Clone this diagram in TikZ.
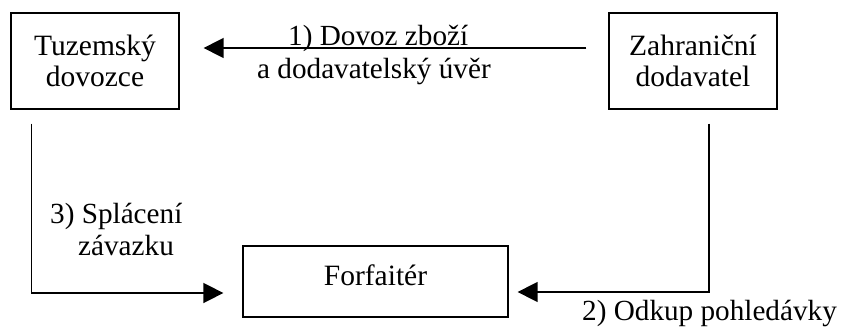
\documentclass[tikz,border=0pt]{standalone}
\usepackage{fontspec}
\setmainfont{Liberation Serif}
\usetikzlibrary{arrows.meta,calc}
\begin{document}
\begin{tikzpicture}[x=1pt,y=-1pt,
  party/.style={draw,line width=1.3pt,rectangle,inner sep=0pt,align=center,
    font=\fontsize{29.5}{31}\selectfont},
  flow/.style={line width=1.6pt,-{Triangle[length=20pt,width=20pt]}},
  lbl/.style={inner sep=0pt,align=left,font=\fontsize{29.2}{33}\selectfont}]
\useasboundingbox (0,0) rectangle (842,331);

% parties
\node[party,minimum width=168pt,minimum height=96pt] (tuz) at (95,61) {Tuzemský\\dovozce};
\node[party,minimum width=168pt,minimum height=96pt] (zah) at (693,61) {Zahraniční\\dodavatel};
\node[party,minimum width=265pt,minimum height=71pt,text height=20pt,text depth=13pt]
  (forf) at (375.5,281.5) {Forfaitér};

% flows
\coordinate (s1) at ($(zah.west)+(-22,-13)$);
\coordinate (t1) at ($(tuz.east)+(24,-13)$);
\draw[flow] (s1) -- (t1);

\coordinate (s3) at ($(tuz.south west)+(21,14)$);
\coordinate (t3) at ($(forf.west)+(-19,11.5)$);
\draw[flow] (s3) |- (t3);

\coordinate (s2) at ($(zah.south)+(16,14)$);
\coordinate (t2) at ($(forf.east)+(9,10.5)$);
\draw[flow] (s2) |- (t2);

% flow labels (base anchor sits on the last line)
\node[lbl,anchor=base west] (l1) at (257,79) {\hspace*{31pt}1) Dovoz zboží\\a dodavatelský úvěr};
\node[lbl,anchor=base west,font=\fontsize{29.2}{32}\selectfont] (l3) at (50,255) {3) Splácení\\\hspace*{28pt}závazku};
\node[lbl,anchor=base west] (l2) at (582,320) {2) Odkup pohledávky};
\end{tikzpicture}
\end{document}
